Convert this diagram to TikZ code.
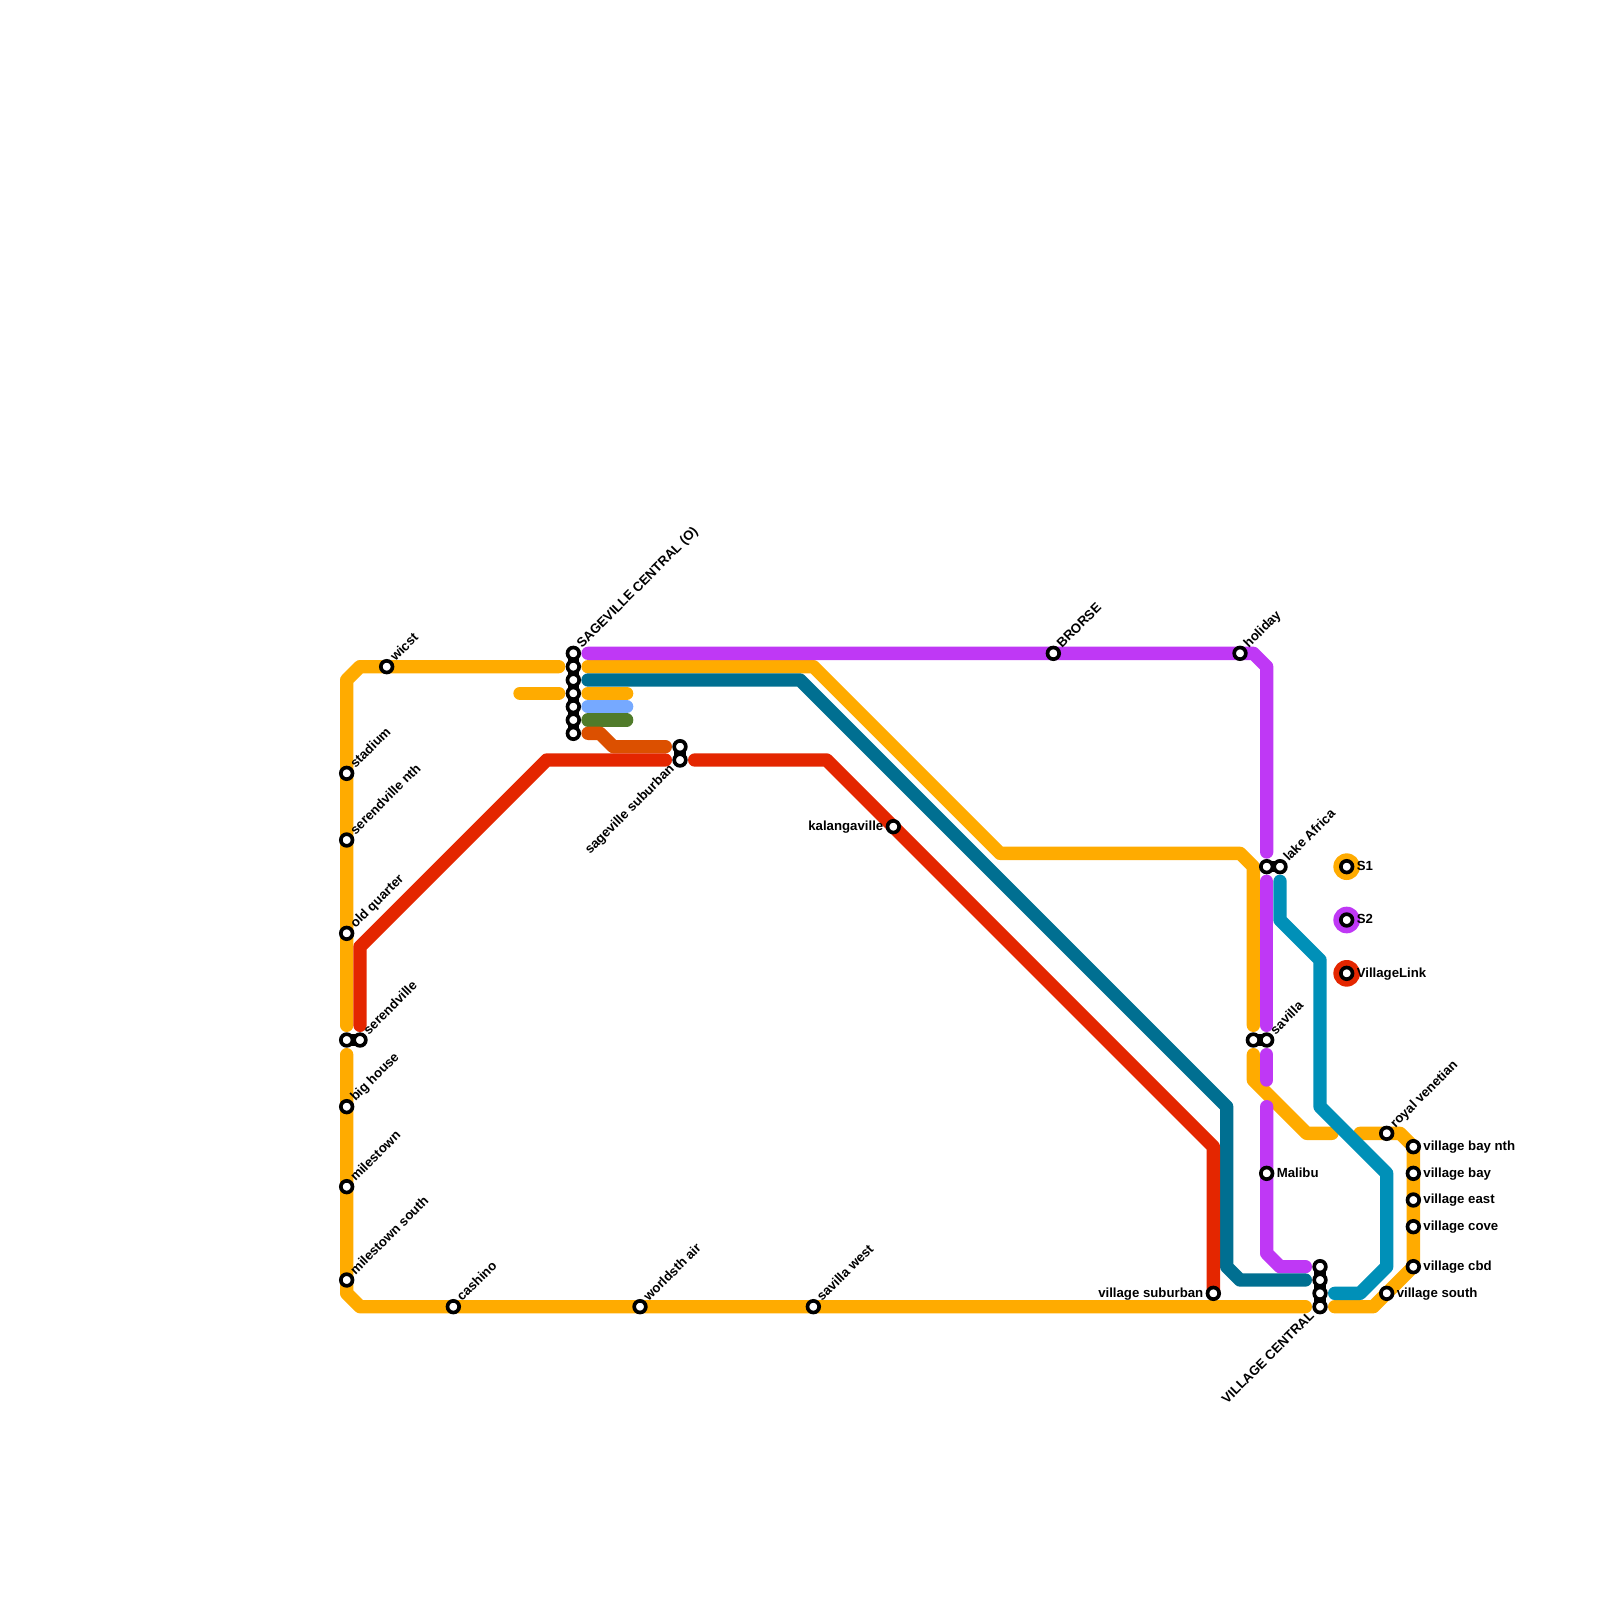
\documentclass[tikz,border=0pt]{standalone}
\usepackage{fontspec}
\setmainfont{Liberation Sans}
\usetikzlibrary{calc}
\pgfdeclarelayer{lines}
\pgfsetlayers{lines,main}
\definecolor{cOrange}{HTML}{FFAB00}
\definecolor{cPurple}{HTML}{BF38F5}
\definecolor{cTeal}{HTML}{006F91}
\definecolor{cBlue}{HTML}{0090B8}
\definecolor{cRed}{HTML}{E42600}
\definecolor{cRust}{HTML}{DC5000}
\definecolor{cSky}{HTML}{76A9FF}
\definecolor{cGreen}{HTML}{507B2A}
\tikzset{
  stn/.style={circle,draw=black,fill=white,line width=0.055cm,minimum size=0.175cm,inner sep=0pt},
  txt/.style={inner sep=0pt,font=\fontsize{5.64pt}{6pt}\selectfont\bfseries,text=black},
  lur/.style={txt,rotate=45,anchor=base west},
  lll/.style={txt,rotate=45,anchor=base east},
  lrt/.style={txt,anchor=base west},
  llf/.style={txt,anchor=base east},
  mline/.style={line width=0.2cm,line cap=round,line join=round},
  link/.style={line width=0.17cm,draw=black},
  legend/.style={circle,minimum size=0.4cm,inner sep=0pt}
}
\newcommand\St[3]{\node[stn] (#1) at (#2,#3) {};}
\newcommand\StUR[4]{\St{#1}{#2}{#3}\node[lur] (#1t) at ($(#1.center)+(.64,-.33)$) {#4};}
\newcommand\StLL[4]{\St{#1}{#2}{#3}\node[lll] (#1t) at ($(#1.center)+(-.37,.73)$) {#4};}
\newcommand\StR[4]{\St{#1}{#2}{#3}\node[lrt] (#1t) at ($(#1.center)+(.72,.28)$) {#4};}
\newcommand\StL[4]{\St{#1}{#2}{#3}\node[llf] (#1t) at ($(#1.center)+(-.72,.28)$) {#4};}
\def\gp{1.1}
\begin{document}
\begin{tikzpicture}[x=0.2cm,y=-0.2cm]
\useasboundingbox (0,0) rectangle (120,120);
% stations
\StUR{sa}{43}{49}{SAGEVILLE CENTRAL (O)}
\St{sb}{43}{50}\St{sc}{43}{51}\St{sd}{43}{52}\St{se}{43}{53}\St{sf}{43}{54}\St{sg}{43}{55}
\St{su}{51}{56}
\StLL{sv}{51}{57}{sageville suburban}
\StUR{wicst}{29}{50}{wicst}
\StUR{stadium}{26}{58}{stadium}
\StUR{sernth}{26}{63}{serendville nth}
\StUR{oldq}{26}{70}{old quarter}
\St{serl}{26}{78}
\StUR{serr}{27}{78}{serendville}
\StUR{bigh}{26}{83}{big house}
\StUR{mile}{26}{89}{milestown}
\StUR{miles}{26}{96}{milestown south}
\StUR{cash}{34}{98}{cashino}
\StUR{world}{48}{98}{worldsth air}
\StUR{savw}{61}{98}{savilla west}
\StL{kal}{67}{62}{kalangaville}
\StUR{bror}{79}{49}{BRORSE}
\StUR{holi}{93}{49}{holiday}
\St{lakel}{95}{65}
\StUR{laker}{96}{65}{lake Africa}
\St{savl}{94}{78}
\StUR{savr}{95}{78}{savilla}
\StR{mali}{95}{88}{Malibu}
\StL{vsub}{91}{97}{village suburban}
\St{vca}{99}{95}\St{vcb}{99}{96}\St{vcc}{99}{97}
\StLL{vcd}{99}{98}{VILLAGE CENTRAL}
\StUR{royal}{104}{85}{royal venetian}
\StR{vnth}{106}{86}{village bay nth}
\StR{vbay}{106}{88}{village bay}
\StR{veast}{106}{90}{village east}
\StR{vcove}{106}{92}{village cove}
\StR{vcbd}{106}{95}{village cbd}
\StR{vsou}{104}{97}{village south}
\begin{pgfonlayer}{lines}
\node[legend,fill=cOrange] (k1) at (101,65) {};
\node[legend,fill=cPurple] (k2) at (101,69) {};
\node[legend,fill=cRed] (k3) at (101,73) {};
\end{pgfonlayer}
\StR{ks1}{101}{65}{S1}
\StR{ks2}{101}{69}{S2}
\StR{ks3}{101}{73}{VillageLink}
\begin{pgfonlayer}{lines}
% orange
\draw[mline,cOrange] ($(sb.center)+(-\gp,0)$) -- (27,50) -- (26,51) -- ($(serl.center)+(0,-\gp)$);
\draw[mline,cOrange] ($(serl.center)+(0,\gp)$) -- (26,97) -- (27,98) -- ($(vcd.center)+(-\gp,0)$);
\draw[mline,cOrange] ($(vcd.center)+(\gp,0)$) -- (103,98) -- (vcbd.center) -- (vnth.center) -- (105,85) -- (102,85);
\draw[mline,cOrange] (99.9,85) -- (98,85) -- (94,81) -- ($(savl.center)+(0,\gp)$);
\draw[mline,cOrange] ($(sb.center)+(\gp,0)$) -- (61,50) -- (75,64) -- (93,64) -- (94,65) -- ($(savl.center)+(0,-\gp)$);
\draw[mline,cOrange] (39,52) -- ($(sd.center)+(-\gp,0)$);
\draw[mline,cOrange] ($(sd.center)+(\gp,0)$) -- (47,52);
% short branches
\draw[mline,cSky] ($(se.center)+(\gp,0)$) -- (47,53);
\draw[mline,cGreen] ($(sf.center)+(\gp,0)$) -- (47,54);
\draw[mline,cRust] ($(sg.center)+(\gp,0)$) -- (45,55) -- (46,56) -- ($(su.center)+(-\gp,0)$);
% purple
\draw[mline,cPurple] ($(sa.center)+(\gp,0)$) -- (94,49) -- (95,50) -- ($(lakel.center)+(0,-\gp)$);
\draw[mline,cPurple] ($(lakel.center)+(0,\gp)$) -- ($(savr.center)+(0,-\gp)$);
\draw[mline,cPurple] ($(savr.center)+(0,\gp)$) -- (95,81);
\draw[mline,cPurple] (95,83) -- (95,94) -- (96,95) -- ($(vca.center)+(-\gp,0)$);
% teal
\draw[mline,cTeal] ($(sc.center)+(\gp,0)$) -- (60,51) -- (92,83) -- (92,95) -- (93,96) -- ($(vcb.center)+(-\gp,0)$);
% red
\draw[mline,cRed] ($(serr.center)+(0,-\gp)$) -- (27,71) -- (41,57) -- ($(sv.center)+(-\gp,0)$);
\draw[mline,cRed] ($(sv.center)+(\gp,0)$) -- (62,57) -- (91,86) -- (vsub.center);
% blue
\draw[mline,cBlue] ($(laker.center)+(0,\gp)$) -- (96,69) -- (99,72) -- (99,83) -- (104,88) -- (104,95) -- (102,97) -- ($(vcc.center)+(\gp,0)$);
% black links between adjacent stations
\draw[link] (sa.center) -- (sg.center);
\draw[link] (su.center) -- (sv.center);
\draw[link] (serl.center) -- (serr.center);
\draw[link] (lakel.center) -- (laker.center);
\draw[link] (savl.center) -- (savr.center);
\draw[link] (vca.center) -- (vcd.center);
\end{pgfonlayer}
\end{tikzpicture}
\end{document}
